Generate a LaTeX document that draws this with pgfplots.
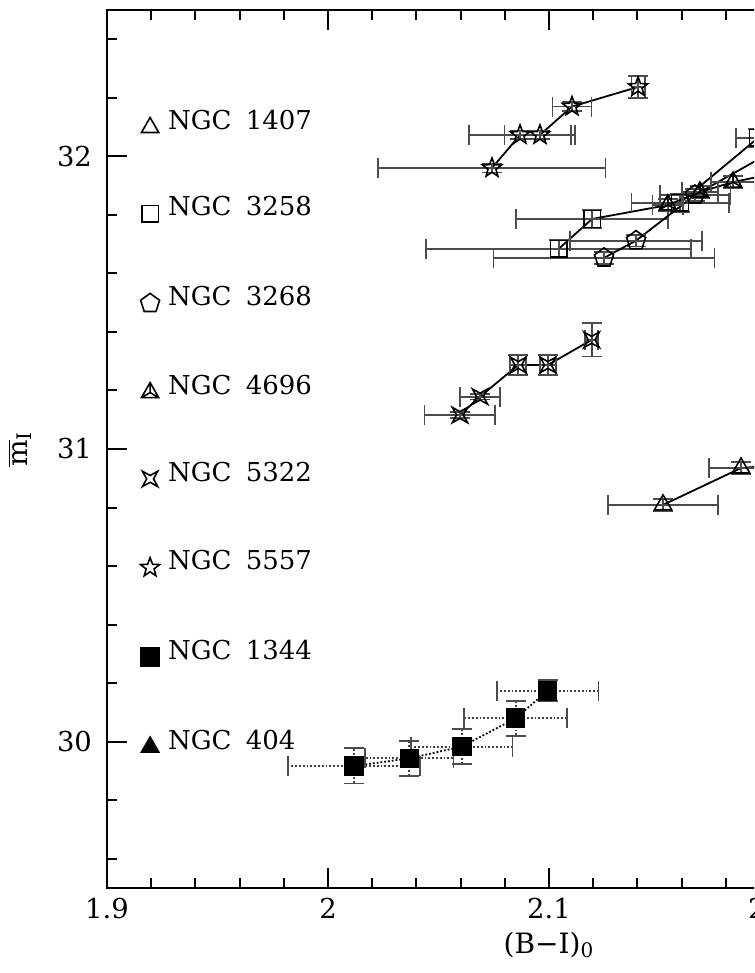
\documentclass[border=0pt]{standalone}
\usepackage{fontspec}
\setmainfont{DejaVu Serif}
\usepackage{pgfplots}
\pgfplotsset{compat=1.18}

% open five-point star
\pgfdeclareplotmark{ostar}{%
  \pgfpathmoveto{\pgfpointpolar{90}{\pgfplotmarksize}}%
  \pgfpathlineto{\pgfpointpolar{126}{0.42\pgfplotmarksize}}%
  \pgfpathlineto{\pgfpointpolar{162}{\pgfplotmarksize}}%
  \pgfpathlineto{\pgfpointpolar{198}{0.42\pgfplotmarksize}}%
  \pgfpathlineto{\pgfpointpolar{234}{\pgfplotmarksize}}%
  \pgfpathlineto{\pgfpointpolar{270}{0.42\pgfplotmarksize}}%
  \pgfpathlineto{\pgfpointpolar{306}{\pgfplotmarksize}}%
  \pgfpathlineto{\pgfpointpolar{342}{0.42\pgfplotmarksize}}%
  \pgfpathlineto{\pgfpointpolar{18}{\pgfplotmarksize}}%
  \pgfpathlineto{\pgfpointpolar{54}{0.42\pgfplotmarksize}}%
  \pgfpathclose\pgfusepathqstroke}
% four-point star
\pgfdeclareplotmark{fourstar}{%
  \pgfpathmoveto{\pgfpoint{\pgfplotmarksize}{\pgfplotmarksize}}%
  \pgfpathlineto{\pgfpoint{0pt}{0.45\pgfplotmarksize}}%
  \pgfpathlineto{\pgfpoint{-\pgfplotmarksize}{\pgfplotmarksize}}%
  \pgfpathlineto{\pgfpoint{-0.45\pgfplotmarksize}{0pt}}%
  \pgfpathlineto{\pgfpoint{-\pgfplotmarksize}{-\pgfplotmarksize}}%
  \pgfpathlineto{\pgfpoint{0pt}{-0.45\pgfplotmarksize}}%
  \pgfpathlineto{\pgfpoint{\pgfplotmarksize}{-\pgfplotmarksize}}%
  \pgfpathlineto{\pgfpoint{0.45\pgfplotmarksize}{0pt}}%
  \pgfpathclose\pgfusepathqstroke}
% skeletal triangle
\pgfdeclareplotmark{sktri}{%
  \pgfpathmoveto{\pgfpointpolar{90}{\pgfplotmarksize}}%
  \pgfpathlineto{\pgfpointpolar{210}{\pgfplotmarksize}}%
  \pgfpathlineto{\pgfpointpolar{330}{\pgfplotmarksize}}%
  \pgfpathclose
  \pgfpathmoveto{\pgfpointorigin}\pgfpathlineto{\pgfpointpolar{90}{\pgfplotmarksize}}%
  \pgfpathmoveto{\pgfpointorigin}\pgfpathlineto{\pgfpointpolar{210}{\pgfplotmarksize}}%
  \pgfpathmoveto{\pgfpointorigin}\pgfpathlineto{\pgfpointpolar{330}{\pgfplotmarksize}}%
  \pgfusepathqstroke}

\pgfplotsset{
  eb/.style={
    error bars/x dir=both, error bars/x explicit,
    error bars/y dir=both, error bars/y explicit,
    error bars/error bar style={line width=0.9pt, black!70},
    error bars/error mark options={rotate=90, mark size=5pt, line width=0.9pt, black!70}},
}

\begin{document}
\begin{tikzpicture}
\useasboundingbox (-53.5pt,-42.5pt) rectangle (323.5pt,444pt);
\clip (-53.5pt,-42.5pt) rectangle (323.5pt,444pt);
\begin{axis}[
    scale only axis,
    width=442pt, height=439pt,
    xmin=1.9, xmax=2.3,
    ymin=29.5, ymax=32.5,
    xtick={1.9,2,2.1,2.2,2.3},
    ytick={30,31,32},
    minor xtick={1.92,1.94,1.96,1.98,2.02,2.04,2.06,2.08,2.12,2.14,2.16,2.18,2.22,2.24,2.26,2.28},
    minor ytick={29.6,29.8,30.2,30.4,30.6,30.8,31.2,31.4,31.6,31.8,32.2,32.4},
    tick align=inside,
    major tick length=10pt, minor tick length=5pt,
    axis line style={line width=1.2pt},
    every tick/.style={black, line width=1pt},
    /pgf/number format/assume math mode=true,
    tick label style={font=\fontsize{13.7}{16}\selectfont},
    yticklabel style={xshift=-4pt},
    xticklabel style={yshift=-1.5pt},
    xlabel={(B−I)$_{\mbox{\fontsize{10}{12}\selectfont 0}}$},
    ylabel={$\overline{\mbox{m}}_{\mbox{\fontsize{10}{12}\selectfont I}}$},
    label style={font=\fontsize{14}{17}\selectfont},
    x label style={at={(axis description cs:0.5,-0.0649)}, anchor=center},
    y label style={at={(axis description cs:-0.0984,0.5)}, anchor=center},
    legend cell align=left,
    legend image code/.code={\draw[#1, only marks] plot coordinates {(0pt,-3pt)};},
    legend style={at={(axis cs:1.9152,32.157)}, anchor=north west,
        draw=none, fill=none, inner sep=0pt, outer sep=0pt,
        row sep=32pt, font=\fontsize{13}{15}\selectfont,
        nodes={inner sep=0pt},
        /tikz/every odd column/.append style={column sep=4.25pt}},
    every axis plot/.append style={black, line width=0.9pt, mark options={solid, line width=0.8pt}},
]

% NGC 1407
\addplot[black, mark=triangle, mark size=5pt, eb] coordinates {
    (2.1516,30.809) +- (0.0249,0.02)
    (2.1869,30.935) +- (0.0145,0.02)
    (2.2120,30.950) +- (0.0120,0.02)
};
\addlegendentry{NGC\hspace{0.55em}1407}

% NGC 3258
\addplot[black, mark=square, mark size=4.2pt, eb] coordinates {
    (2.1044,31.684) +- (0.0600,0.03)
    (2.1195,31.786) +- (0.0344,0.03)
    (2.1593,31.841) +- (0.0220,0.03)
    (2.1946,32.063) +- (0.0100,0.03)
};
\addlegendentry{NGC\hspace{0.55em}3258}

% NGC 3268
\addplot[black, mark=pentagon, mark size=5pt, eb] coordinates {
    (2.1249,31.653) +- (0.0500,0.02)
    (2.1394,31.712) +- (0.0300,0.02)
    (2.1661,31.868) +- (0.0160,0.02)
    (2.2136,32.070) +- (0.0120,0.02)
};
\addlegendentry{NGC\hspace{0.55em}3268}

% NGC 4696
\addplot[black, mark=sktri, mark size=5pt, eb] coordinates {
    (2.1538,31.834) +- (0.0070,0.02)
    (2.1683,31.878) +- (0.0080,0.02)
    (2.1833,31.912) +- (0.0100,0.02)
    (2.2136,31.960) +- (0.0100,0.02)
};
\addlegendentry{NGC\hspace{0.55em}4696}

% NGC 5322
\addplot[black, mark=fourstar, mark size=3.8pt, eb] coordinates {
    (2.0597,31.116) +- (0.0160,0.010)
    (2.0688,31.179) +- (0.0089,0.010)
    (2.0861,31.287) +- (0.0036,0.034)
    (2.0995,31.287) +- (0.0036,0.034)
    (2.1193,31.373) +- (0.0030,0.057)
};
\addlegendentry{NGC\hspace{0.55em}5322}

% NGC 5557
\addplot[black, mark=ostar, mark size=5pt, eb] coordinates {
    (2.0742,31.960) +- (0.0514,0.015)
    (2.0869,32.073) +- (0.0230,0.015)
    (2.0959,32.073) +- (0.0160,0.015)
    (2.1104,32.170) +- (0.0088,0.015)
    (2.1403,32.237) +- (0.0030,0.037)
};
\addlegendentry{NGC\hspace{0.55em}5557}

% NGC 1344
\addplot[black, densely dotted, mark=square*, mark size=4.5pt, eb,
    error bars/error bar style={line width=0.9pt, black!75, densely dotted}] coordinates {
    (2.0118,29.917) +- (0.0300,0.060)
    (2.0368,29.943) +- (0.0200,0.060)
    (2.0605,29.983) +- (0.0230,0.060)
    (2.0849,30.080) +- (0.0234,0.060)
    (2.0994,30.174) +- (0.0230,0.036)
};
\addlegendentry{NGC\hspace{0.55em}1344}

% NGC 404
\addlegendimage{black, mark=triangle*, mark size=5pt}
\addlegendentry{NGC\hspace{0.55em}404}

\end{axis}
\end{tikzpicture}
\end{document}
